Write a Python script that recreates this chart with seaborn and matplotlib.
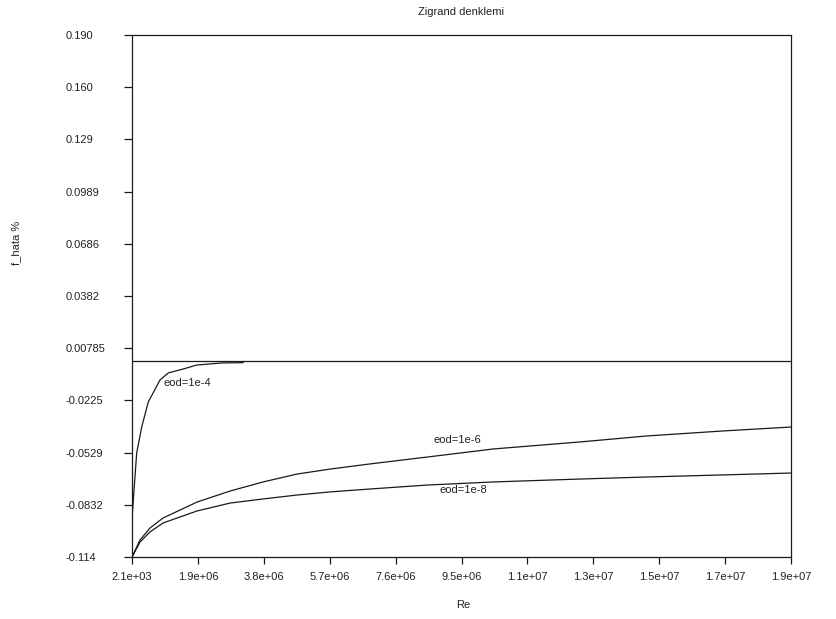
import numpy as np
import pandas as pd
import matplotlib
matplotlib.use('Agg')
import matplotlib.pyplot as plt
import seaborn as sns

# Values
re_1e4 = [2100, 39600, 137600, 281700, 472000, 809300, 1048600, 1481000, 1867000, 2588000, 3211000]
f_1e4 = [-0.0924, -0.0808, -0.0534, -0.0383, -0.0237, -0.0109, -0.0068, -0.0045, -0.0022, -0.0010, -0.0008]

re_1e6 = [2100, 232700, 521000, 895800, 1876000, 2827000, 3779000, 4759000, 5710000,
          6863000, 8506000, 10409000, 12917000, 14849000, 17040000, 19000000]
f_1e6 = [-0.114, -0.1041, -0.0971, -0.0913, -0.0820, -0.0756, -0.0703, -0.0657, -0.0628,
         -0.0598, -0.0558, -0.0511, -0.0470, -0.0435, -0.0406, -0.0383]

re_1e8 = [2100, 232700, 521000, 895800, 1876000, 2827000, 3779000, 4759000, 5710000,
          6863000, 8506000, 10409000, 12917000, 14849000, 17040000, 19000000]
f_1e8 = [-0.114, -0.1053, -0.0994, -0.0942, -0.0872, -0.0826, -0.0802, -0.0779, -0.0761,
         -0.0744, -0.0721, -0.0703, -0.0686, -0.0674, -0.0662, -0.0651]

series_names = ['eod=1e-4', 'eod=1e-6', 'eod=1e-8']

x_ticklabels = ['2.1e+03', '1.9e+06', '3.8e+06', '5.7e+06', '7.6e+06', '9.5e+06',
                '1.1e+07', '1.3e+07', '1.5e+07', '1.7e+07', '1.9e+07']
y_ticklabels = ['-0.114', '-0.0832', '-0.0529', '-0.0225', '0.00785', '0.0382',
                '0.0686', '0.0989', '0.129', '0.160', '0.190']
x_min, x_max = 2100, 19000000
y_min, y_max = -0.114, 0.190

df = pd.concat([
    pd.DataFrame({'Re': re_1e4, 'f': f_1e4, 'eod': series_names[0]}),
    pd.DataFrame({'Re': re_1e6, 'f': f_1e6, 'eod': series_names[1]}),
    pd.DataFrame({'Re': re_1e8, 'f': f_1e8, 'eod': series_names[2]}),
])

sns.set_style('white')
plt.rcParams['font.family'] = ['Liberation Sans', 'DejaVu Sans']
plt.rcParams['font.size'] = 8

fig = plt.figure(figsize=(8.36, 6.19), dpi=100)
ax = fig.add_axes([132 / 836, 1 - 557 / 619, (791 - 132) / 836, (557 - 35) / 619])

line_col = '#1a1a1a'
sns.lineplot(data=df, x='Re', y='f', units='eod', estimator=None, sort=False,
             color=line_col, linewidth=0.9, ax=ax, legend=False)
ax.axhline(0, color=line_col, linewidth=0.9)

ax.set_xlim(x_min, x_max)
ax.set_ylim(y_min, y_max)
ax.set_xticks(np.linspace(x_min, x_max, len(x_ticklabels)))
ax.set_xticklabels(x_ticklabels)
ax.set_yticks(np.linspace(y_min, y_max, len(y_ticklabels)))
ax.set_yticklabels(y_ticklabels, ha='left')
ax.set_xlabel('')
ax.set_ylabel('')

for s in ax.spines.values():
    s.set_color(line_col)
    s.set_linewidth(0.9)

ax.tick_params(axis='y', direction='out', length=6, width=0.9, color=line_col,
               pad=42, labelsize=8, labelcolor='#222222', left=True)
ax.tick_params(axis='x', direction='out', length=5, width=0.9, color=line_col,
               pad=6, labelsize=8, labelcolor='#222222', bottom=True)

# curve labels
ax.text(900000, -0.0127, series_names[0], fontsize=8, va='center', color='#222222')
ax.text(8680000, -0.0459, series_names[1], fontsize=8, va='center', color='#222222')
ax.text(8880000, -0.0750, series_names[2], fontsize=8, va='center', color='#222222')

fig.text(461 / 836, 1 - 12 / 619, 'Zigrand denklemi', ha='center', va='center',
         fontsize=8, color='#222222')
fig.text(463 / 836, 1 - 605 / 619, 'Re', ha='center', va='center',
         fontsize=8, color='#222222')
fig.text(16 / 836, 1 - 243 / 619, 'f_hata %', ha='center', va='center',
         rotation=90, fontsize=8, color='#222222')

fig.savefig('out.png', dpi=100)
